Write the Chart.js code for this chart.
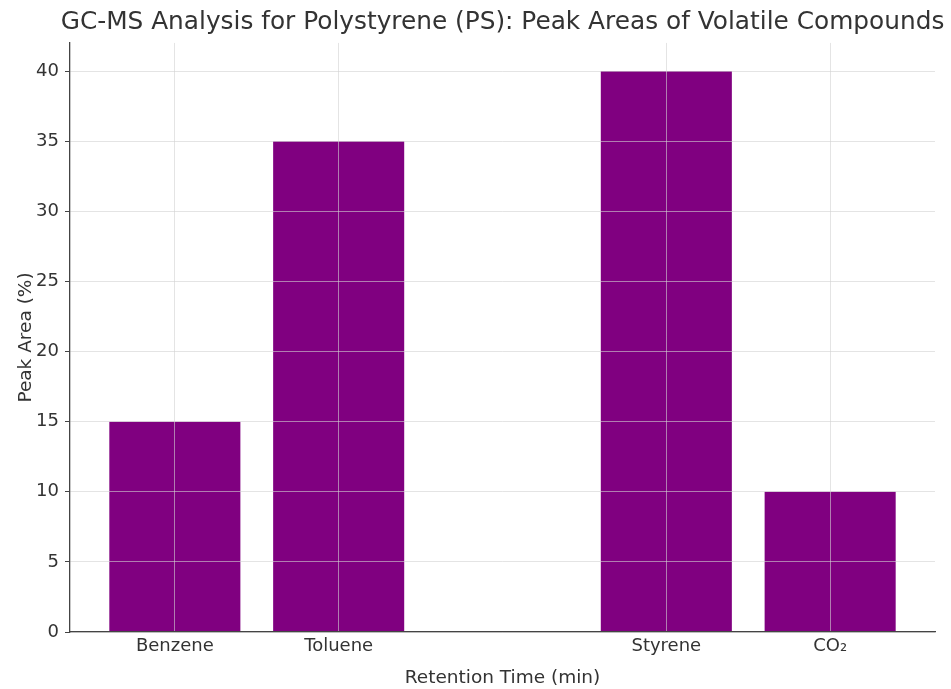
<!DOCTYPE html>
<html>
<head>
<meta charset="utf-8">
<script src="https://cdn.jsdelivr.net/npm/chart.js@4"></script>
<style>
  html, body { margin: 0; padding: 0; background: #fff; }
  #wrap { width: 951px; height: 689px; }
</style>
</head>
<body>
<div id="wrap"><canvas id="chart" width="951" height="689"></canvas></div>
<script>
// compounds and their (relative) retention positions on the x axis
const compounds = ["Benzene", "Toluene", "Styrene", "CO\u2082"];
const retentionPos = [1, 2, 4, 5];
const peakAreas = [15, 35, 40, 10];
const yTicks = [0, 5, 10, 15, 20, 25, 30, 35, 40];

const fontFam = "'DejaVu Sans', sans-serif";
const textColor = "#333";
const gridColor = "rgba(210,210,210,0.6)";

// centre the title over the plot area rather than the whole canvas
const centerTitle = {
  id: "centerTitle",
  afterLayout(chart) {
    const tb = chart.titleBlock;
    if (!tb) return;
    const shift = (chart.chartArea.left + chart.chartArea.right) / 2 - (tb.left + tb.right) / 2;
    tb.left += shift;
    tb.right += shift;
  },
};

const ctx = document.getElementById("chart");
new Chart(ctx, {
  type: "bar",
  data: {
    datasets: [
      {
        label: "Peak Area (%)",
        data: retentionPos.map((x, i) => ({ x: x, y: peakAreas[i] })),
        backgroundColor: "#800080",
        borderWidth: 0,
        barPercentage: 0.8,
        categoryPercentage: 1.0,
      },
    ],
  },
  plugins: [centerTitle],
  options: {
    responsive: false,
    animation: false,
    layout: { padding: { left: 0, right: 16, top: 0, bottom: 0 } },
    plugins: {
      legend: { display: false },
      tooltip: { enabled: false },
      title: {
        display: true,
        text: "GC-MS Analysis for Polystyrene (PS): Peak Areas of Volatile Compounds",
        color: textColor,
        font: { family: fontFam, size: 24.8, weight: "normal" },
        padding: { top: 8, bottom: 5.2 },
      },
    },
    scales: {
      x: {
        type: "linear",
        min: 0.36,
        max: 5.64,
        offset: false,
        afterBuildTicks: (scale) => {
          scale.ticks = retentionPos.map((v) => ({ value: v }));
        },
        afterFit: (scale) => {
          scale.height = 57;
        },
        ticks: {
          color: textColor,
          font: { family: fontFam, size: 18 },
          padding: 0,
          callback: (value) => compounds[retentionPos.indexOf(value)],
        },
        grid: {
          color: gridColor,
          offset: false,
          z: 1,
          drawTicks: true,
          tickLength: 4,
          tickColor: "transparent",
        },
        border: { display: true, color: "#444", width: 1.3, z: 2 },
        title: {
          display: true,
          text: "Retention Time (min)",
          color: textColor,
          font: { family: fontFam, size: 18.5 },
          padding: { top: 0, bottom: 0 },
        },
      },
      y: {
        min: 0,
        max: 42,
        afterBuildTicks: (scale) => {
          scale.ticks = yTicks.map((v) => ({ value: v }));
        },
        afterFit: (scale) => {
          scale.width = 70;
        },
        ticks: {
          color: textColor,
          font: { family: fontFam, size: 18 },
          padding: 6,
        },
        grid: {
          color: gridColor,
          z: 1,
          drawTicks: true,
          tickLength: 5,
          tickColor: "#444",
        },
        border: { display: true, color: "#444", width: 1.3, z: 2 },
        title: {
          display: true,
          text: "Peak Area (%)",
          color: textColor,
          font: { family: fontFam, size: 18.5 },
          padding: { top: 15, bottom: 4 },
        },
      },
    },
  },
});
</script>
</body>
</html>
